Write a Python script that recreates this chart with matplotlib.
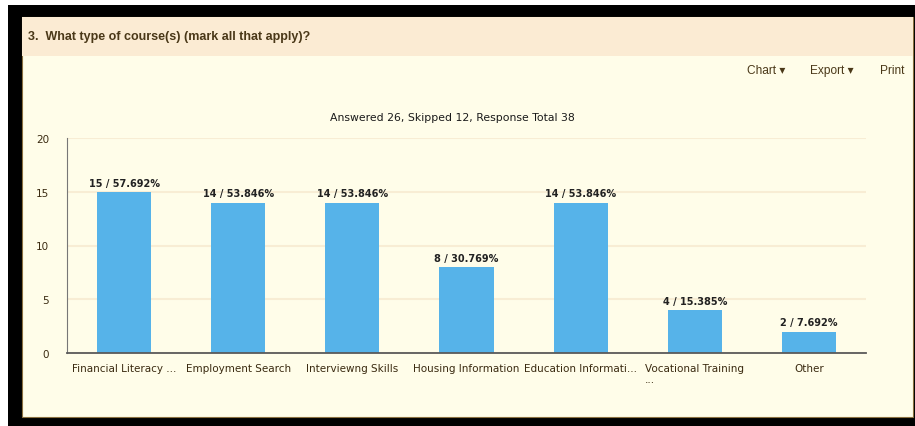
import matplotlib
matplotlib.use("Agg")
from matplotlib import pyplot as plt
from matplotlib.patches import Rectangle

# Survey question 3 results
categories = ["Financial Literacy ...", "Employment Search", "Interviewng Skills",
              "Housing Information", "Education Informati...", "Vocational Training\n...",
              "Other"]
counts = [15, 14, 14, 8, 14, 4, 2]
percents = ["57.692", "53.846", "53.846", "30.769", "53.846", "15.385", "7.692"]
answered, skipped, total = 26, 12, 38
question = "3.  What type of course(s) (mark all that apply)?"

W, H = 915, 427
BAR = "#56b3e9"
PANEL = "#fffde9"
HEADER = "#fbebd3"
TEXT = "#3a2a10"
UI = ["Liberation Sans", "DejaVu Sans"]


def fx(x):
    return x / W


def fy(y):
    return 1 - y / H


fig = plt.figure(figsize=(W / 100, H / 100), dpi=100)
fig.patch.set_facecolor("white")

# black frame, header band and pale content panel
fig.patches.append(Rectangle((fx(8), fy(427)), fx(907), 421 / H, transform=fig.transFigure,
                             facecolor="black", edgecolor="none", zorder=-3))
fig.patches.append(Rectangle((fx(22), fy(418)), fx(891), 400 / H, transform=fig.transFigure,
                             facecolor=PANEL, edgecolor="#8a7040", linewidth=0.8, zorder=-2))
fig.patches.append(Rectangle((fx(22), fy(57)), fx(891), 39 / H, transform=fig.transFigure,
                             facecolor=HEADER, edgecolor="none", zorder=-1))

fig.text(fx(28), fy(37), question, family=UI, weight="bold",
         fontsize=9.0, color="#4a3818", va="center", ha="left")
fig.text(fx(747), fy(71), "Chart \u25be", family=UI, fontsize=8.6,
         color="#4a3818", va="center", ha="left")
fig.text(fx(810), fy(71), "Export \u25be", family=UI, fontsize=8.6,
         color="#4a3818", va="center", ha="left")
fig.text(fx(880), fy(71), "Print", family=UI, fontsize=8.6,
         color="#4a3818", va="center", ha="left")

fig.text(fx(452), fy(118), "Answered %d, Skipped %d, Response Total %d" % (answered, skipped, total),
         fontsize=7.8, color="#1a1a1a", va="center", ha="center")

ax = fig.add_axes([fx(67), fy(354), 799 / W, 215 / H])
ax.set_zorder(1)
ax.set_facecolor("none")
xs = range(len(categories))
ax.bar(xs, counts, width=0.475, color=BAR, zorder=3)
for x, c, p in zip(xs, counts, percents):
    ax.annotate("%d / %s%%" % (c, p), (x, c), xytext=(0, 3), textcoords="offset points",
                ha="center", va="bottom", fontsize=7.0, weight="bold", color="#222222")

ax.set_xlim(-0.5, len(categories) - 0.5)
ax.set_ylim(0, 20)
ax.set_yticks([0, 5, 10, 15, 20])
ax.set_xticks(list(xs))
ax.set_xticklabels(categories, fontsize=7.5, color=TEXT, multialignment="left")
ax.tick_params(axis="x", length=0, pad=7)
ax.tick_params(axis="y", length=0, pad=13, labelsize=7.5, labelcolor=TEXT)
ax.grid(axis="y", color="#f8edd4", linewidth=1.5, zorder=0)
for s in ["top", "right"]:
    ax.spines[s].set_visible(False)
ax.spines["left"].set_color("#777777")
ax.spines["left"].set_linewidth(0.8)
ax.spines["bottom"].set_color("#5a5a5a")
ax.spines["bottom"].set_linewidth(1.3)
ax.spines["bottom"].set_zorder(4)

fig.savefig("out.png", dpi=100)
